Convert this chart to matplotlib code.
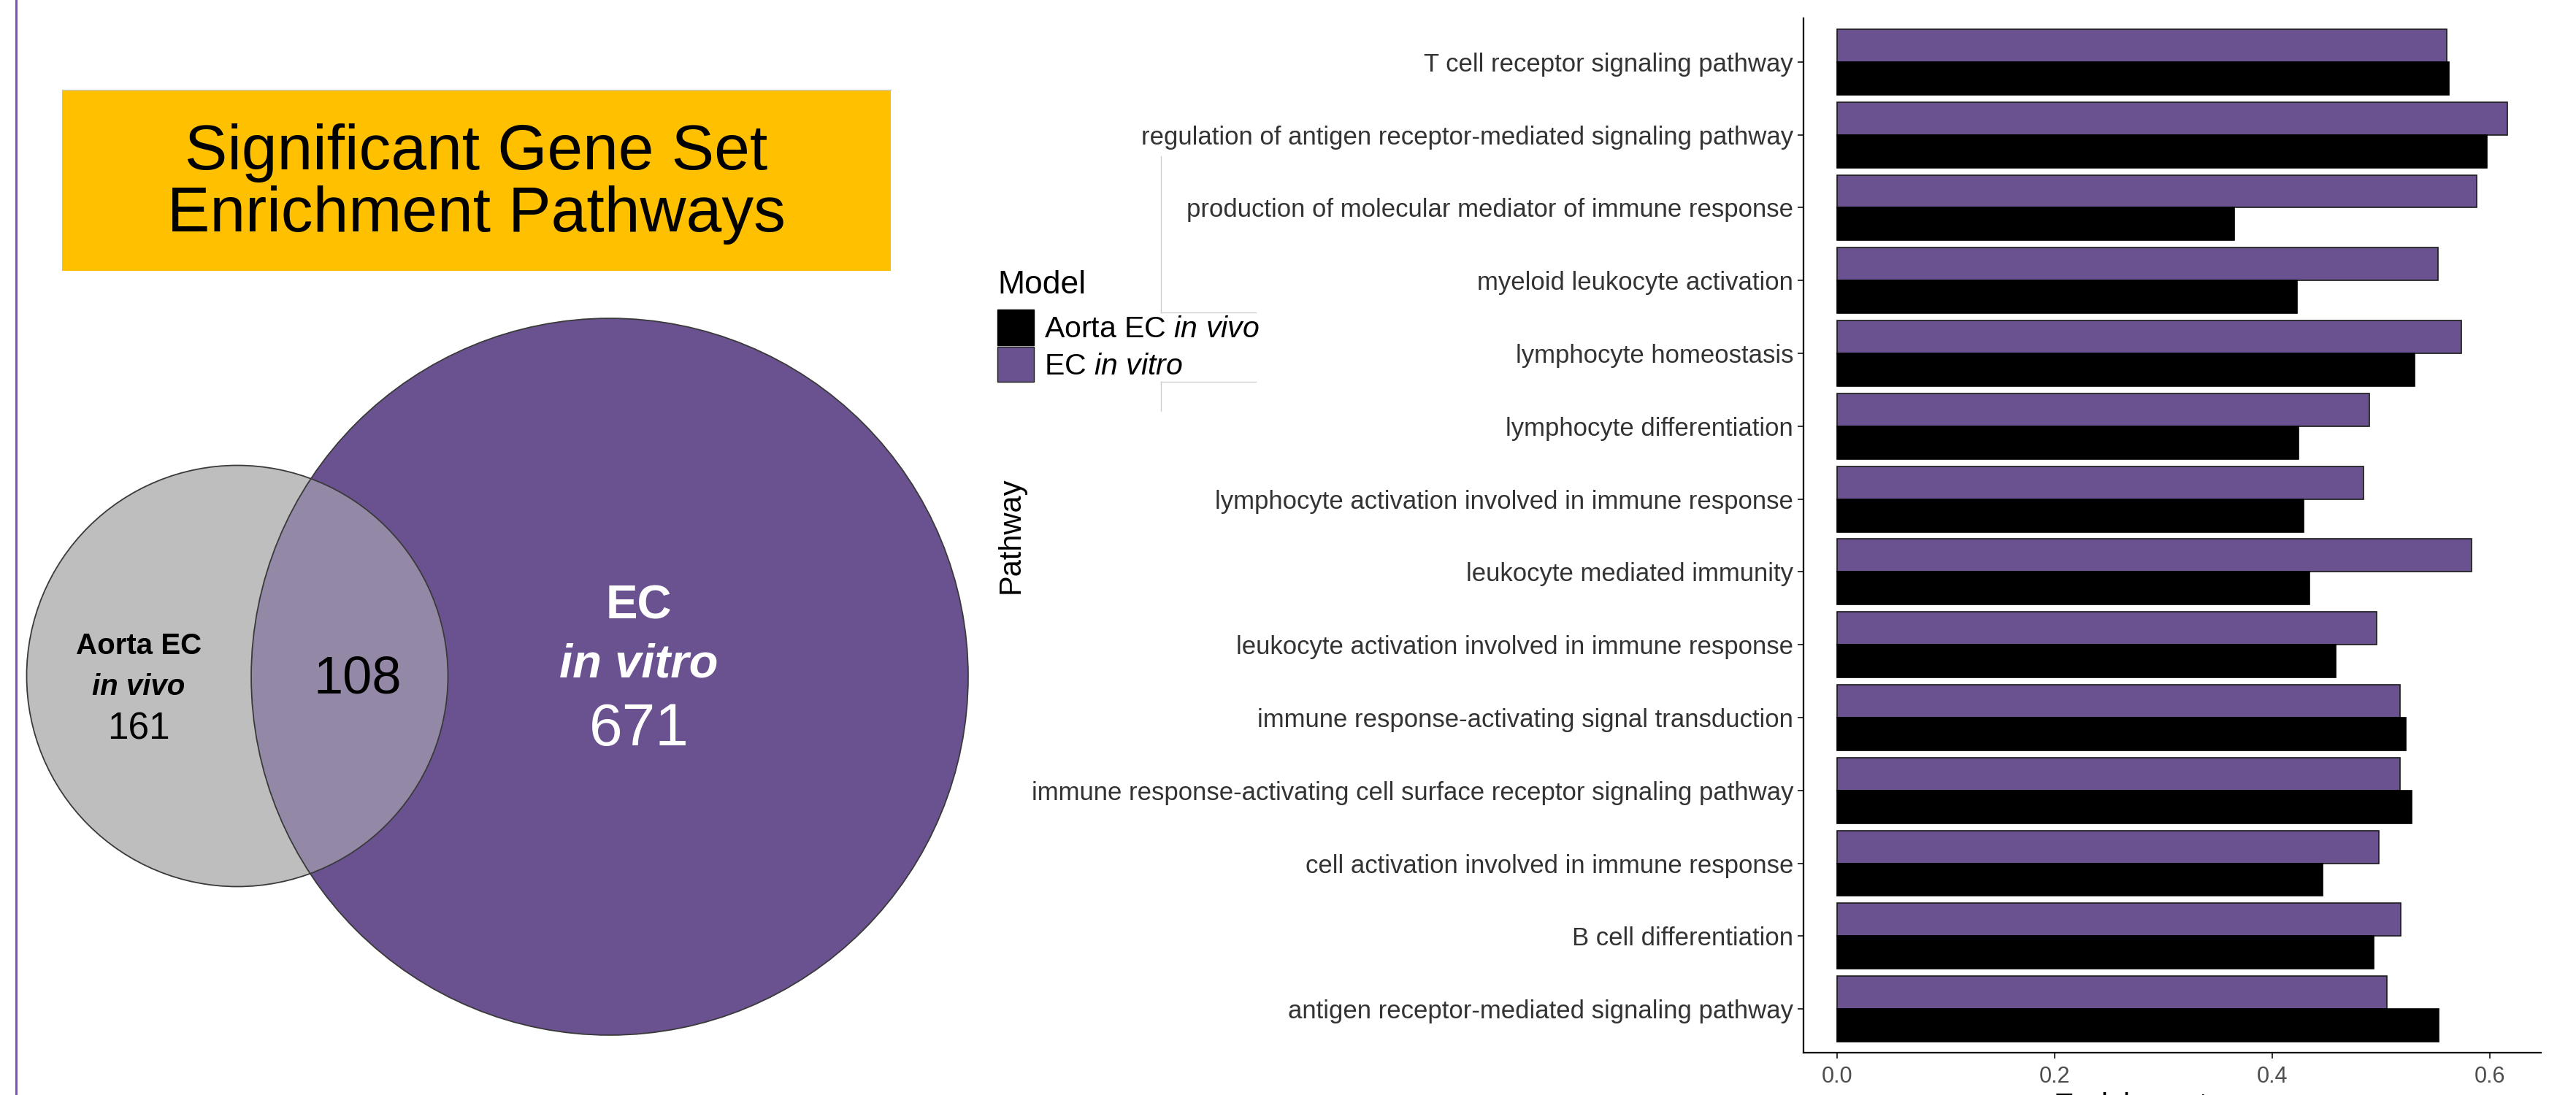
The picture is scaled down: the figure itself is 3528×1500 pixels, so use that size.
import numpy as np
import matplotlib
matplotlib.use('Agg')
import matplotlib.pyplot as plt
from matplotlib.patches import Circle, Rectangle, Patch

plt.rcParams['font.family'] = 'Liberation Sans'
plt.rcParams['mathtext.fontset'] = 'custom'
plt.rcParams['mathtext.rm'] = 'Liberation Sans'
plt.rcParams['mathtext.it'] = 'Liberation Sans:italic'
plt.rcParams['mathtext.bf'] = 'Liberation Sans:bold'

# data
pathways = [
    'T cell receptor signaling pathway',
    'regulation of antigen receptor-mediated signaling pathway',
    'production of molecular mediator of immune response',
    'myeloid leukocyte activation',
    'lymphocyte homeostasis',
    'lymphocyte differentiation',
    'lymphocyte activation involved in immune response',
    'leukocyte mediated immunity',
    'leukocyte activation involved in immune response',
    'immune response-activating signal transduction',
    'immune response-activating cell surface receptor signaling pathway',
    'cell activation involved in immune response',
    'B cell differentiation',
    'antigen receptor-mediated signaling pathway',
]
ec_in_vitro = [0.560, 0.616, 0.588, 0.552, 0.574, 0.489, 0.484,
               0.583, 0.496, 0.517, 0.517, 0.498, 0.518, 0.505]
aorta_in_vivo = [0.562, 0.597, 0.365, 0.423, 0.531, 0.424, 0.429,
                 0.434, 0.458, 0.523, 0.528, 0.446, 0.493, 0.553]
x_ticks = [0.0, 0.2, 0.4, 0.6]
x_ticklabels = ['0.0', '0.2', '0.4', '0.6']

only_vivo = 161
shared = 108
only_vitro = 671

purple = '#6A5291'
gray = '#BEBEBE'

fig = plt.figure(figsize=(35.28, 15), dpi=100)

# pixel-space background axes for the venn part
bg = fig.add_axes([0, 0, 1, 1])
bg.set_xlim(0, 3528)
bg.set_ylim(1500, 0)
bg.axis('off')

bg.plot([22, 22], [0, 1500], color='#7E4FC0', lw=2.2)

bg.add_patch(Rectangle((85, 123), 1135, 248, fc='#FFC000', ec='none'))
bg.plot([85, 1220], [123, 123], color='#c8c8c8', lw=1)
bg.text(652, 252, 'Significant Gene Set\nEnrichment Pathways', ha='center',
        va='center', fontsize=63, linespacing=1.05)

# venn circles, area proportional to set sizes
R = 17.59
r_vivo = R * np.sqrt(only_vivo + shared)
r_vitro = R * np.sqrt(only_vitro + shared)
c_vivo = (325, 926)
c_vitro = (835, 927)

bg.add_patch(Circle(c_vivo, r_vivo, fc=gray, ec='none'))
big = Circle(c_vitro, r_vitro, fc=purple, ec='none')
bg.add_patch(big)
overlap = Circle(c_vivo, r_vivo, fc=gray, ec='none', alpha=0.5)
bg.add_patch(overlap)
overlap.set_clip_path(big)
bg.add_patch(Circle(c_vivo, r_vivo, fill=False, ec='#3a3a3a', lw=1.3))
bg.add_patch(Circle(c_vitro, r_vitro, fill=False, ec='#3a3a3a', lw=1.3))

bg.text(190, 885, 'Aorta EC', ha='center', va='center', fontsize=29, fontweight='bold')
bg.text(190, 941, 'in vivo', ha='center', va='center', fontsize=29,
        fontweight='bold', style='italic')
bg.text(190, 999, str(only_vivo), ha='center', va='center', fontsize=37)
bg.text(490, 931, str(shared), ha='center', va='center', fontsize=52)
bg.text(875, 830, 'EC', ha='center', va='center', fontsize=47,
        fontweight='bold', color='white')
bg.text(875, 911, 'in vitro', ha='center', va='center', fontsize=47,
        fontweight='bold', style='italic', color='white')
bg.text(875, 1000, str(only_vitro), ha='center', va='center', fontsize=59, color='white')

# stray frame lines near the legend
for xs, ys in [([1590, 1590], [214, 428]), ([1590, 1720], [428, 428]),
               ([1590, 1720], [523, 523]), ([1590, 1590], [523, 563])]:
    bg.plot(xs, ys, color='#cfcfcf', lw=1)

# bar chart
ax = fig.add_axes([2470 / 3528, 58 / 1500, 1010 / 3528, 1417 / 1500])
n = len(pathways)
y = np.arange(n)[::-1].astype(float)
ax.barh(y + 0.225, ec_in_vitro, height=0.45, color=purple, edgecolor='#1a1a1a', lw=1.2)
ax.barh(y - 0.225, aorta_in_vivo, height=0.45, color='black', edgecolor='black', lw=1.2)

ax.set_ylim(-0.6, n - 1 + 0.6)
hi = max(max(ec_in_vitro), max(aorta_in_vivo))
pad = 0.05 * hi
ax.set_xlim(-pad, hi + pad)
ax.set_yticks(y)
ax.set_yticklabels(pathways, fontsize=25, color='#333333')
ax.set_xticks(x_ticks)
ax.set_xticklabels(x_ticklabels, fontsize=22, color='#4D4D4D')
for s in ['top', 'right']:
    ax.spines[s].set_visible(False)
for s in ['left', 'bottom']:
    ax.spines[s].set_linewidth(1.6)
ax.tick_params(length=6, width=1.4, color='#333333', pad=4)
ax.tick_params(axis='x', pad=7)

ax.set_ylabel('Pathway', fontsize=30)
ax.yaxis.set_label_coords(-1.055, 0.5)
ax.set_xlabel('Enrichment score', fontsize=30, va='top')
ax.xaxis.set_label_coords(0.5, -0.038)

handles = [Patch(fc='black', ec='black'), Patch(fc=purple, ec='#1a1a1a')]
labels = ['Aorta EC $\\mathit{in\\ vivo}$', 'EC $\\mathit{in\\ vitro}$']
leg = fig.legend(handles, labels, title='Model', loc='upper left',
                 bbox_to_anchor=(1346 / 3528, 1 - 350 / 1500), frameon=False,
                 fontsize=29.5, title_fontsize=32, handlelength=1.2, handleheight=1.45,
                 handletextpad=0.35, labelspacing=0.05, borderpad=0, alignment='left')
# a bit more room between the legend title and the keys
leg._legend_box.sep = 9

fig.savefig('out.png', dpi=100)
